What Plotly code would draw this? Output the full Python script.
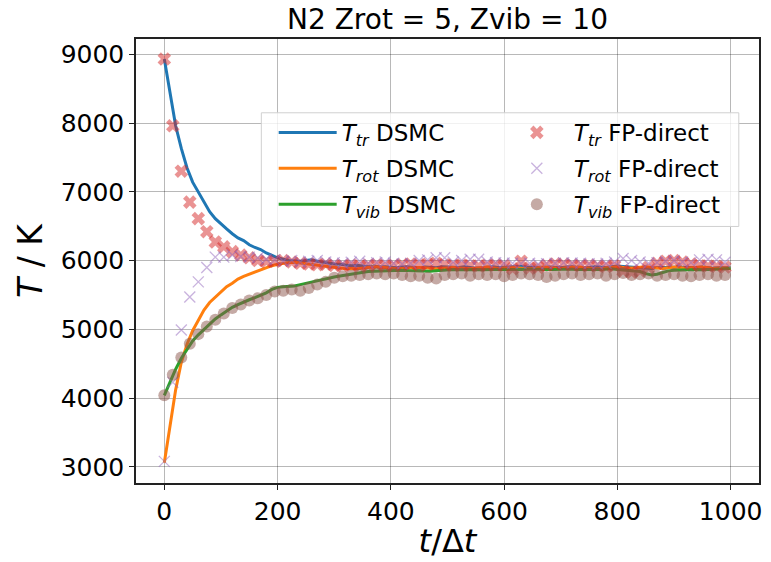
import plotly.graph_objects as go

# ---------------- data ----------------
t_dsmc = list(range(0, 1001, 10))
T_tr_dsmc = [8930, 8420, 7960, 7630, 7350, 7140, 6990, 6840, 6710, 6610,
             6530, 6460, 6390, 6330, 6290, 6230, 6190, 6160, 6110, 6070,
             6040, 6020, 6000, 5995, 5990, 6000, 6010, 5990, 5975, 5960,
             5950, 5945, 5930, 5925, 5930, 5915, 5910, 5920, 5905, 5910,
             5900, 5895, 5905, 5910, 5900, 5890, 5905, 5900, 5895, 5910,
             5905, 5895, 5900, 5910, 5900, 5890, 5895, 5905, 5910, 5900,
             5905, 5915, 5920, 5915, 5905, 5900, 5895, 5900, 5905, 5900,
             5895, 5905, 5910, 5900, 5895, 5900, 5910, 5905, 5900, 5910,
             5920, 5915, 5905, 5900, 5895, 5890, 5885, 5895, 5900, 5905,
             5910, 5905, 5900, 5895, 5900, 5905, 5895, 5890, 5895, 5900,
             5895]
T_rot_dsmc = [3060, 3620, 4120, 4520, 4780, 4980, 5140, 5280, 5390, 5470,
              5550, 5620, 5670, 5730, 5770, 5800, 5840, 5870, 5900, 5925,
              5945, 5960, 5970, 5975, 5965, 5950, 5940, 5925, 5915, 5905,
              5900, 5890, 5880, 5885, 5880, 5890, 5900, 5910, 5905, 5895,
              5890, 5880, 5885, 5890, 5905, 5900, 5895, 5885, 5880, 5890,
              5895, 5900, 5890, 5885, 5880, 5890, 5900, 5905, 5895, 5885,
              5890, 5895, 5900, 5890, 5880, 5885, 5895, 5905, 5900, 5890,
              5885, 5895, 5905, 5910, 5900, 5890, 5880, 5885, 5895, 5905,
              5910, 5900, 5890, 5895, 5905, 5910, 5900, 5890, 5885, 5895,
              5905, 5900, 5890, 5895, 5900, 5905, 5895, 5885, 5890, 5895,
              5890]
T_vib_dsmc = [4040, 4230, 4420, 4580, 4710, 4830, 4920, 5000, 5070, 5150,
              5210, 5270, 5320, 5360, 5400, 5430, 5460, 5490, 5530, 5580,
              5610, 5620, 5625, 5630, 5650, 5670, 5690, 5700, 5720, 5740,
              5760, 5775, 5790, 5800, 5815, 5830, 5840, 5845, 5850, 5855,
              5860, 5865, 5860, 5855, 5850, 5845, 5840, 5845, 5850, 5860,
              5865, 5870, 5865, 5870, 5875, 5870, 5865, 5870, 5875, 5880,
              5875, 5870, 5865, 5870, 5875, 5880, 5875, 5870, 5865, 5870,
              5875, 5880, 5875, 5870, 5875, 5880, 5875, 5870, 5875, 5880,
              5870, 5860, 5855, 5850, 5840, 5810, 5790, 5800, 5830, 5850,
              5860, 5865, 5870, 5875, 5870, 5865, 5870, 5875, 5880, 5885,
              5885]

t_fp = list(range(0, 991, 15))
T_tr_fp = [8930, 7960, 7300, 6850, 6610, 6420, 6270, 6200, 6130, 6080,
           6040, 6000, 5985, 5990, 6000, 5980, 5960, 5950, 5940, 5945,
           5930, 5925, 5935, 5920, 5930, 5940, 5925, 5930, 5940, 5950,
           5935, 5945, 5960, 5940, 5930, 5935, 5925, 5920, 5930, 5935,
           5925, 5880, 5990, 5890, 5900, 5930, 5950, 5945, 5935, 5925,
           5930, 5920, 5915, 5925, 5850, 5830, 5850, 5900, 5960, 5990,
           6000, 5980, 5950, 5925, 5920, 5915, 5905]
T_rot_fp = [3080, 4230, 4990, 5470, 5690, 5900, 6050, 6050, 6080, 6060,
            6050, 6040, 6020, 6010, 5990, 6000, 5980, 5990, 6000, 5980,
            5970, 5960, 5975, 5990, 5960, 5970, 5980, 5960, 5950, 5960,
            6000, 6010, 6040, 6040, 5980, 6000, 6020, 6020, 5980, 5970,
            5965, 5960, 5955, 5960, 5950, 5955, 5960, 5970, 5965, 5960,
            5955, 5950, 5960, 5980, 6030, 6000, 5980, 5960, 5970, 5990,
            6000, 5980, 5970, 6010, 6020, 6010, 5975]
T_vib_fp = [4040, 4340, 4590, 4790, 4930, 5040, 5140, 5230, 5310, 5360,
            5420, 5450, 5500, 5550, 5560, 5580, 5560, 5600, 5650, 5690,
            5750, 5770, 5780, 5790, 5800, 5810, 5800, 5810, 5790, 5770,
            5780, 5750, 5740, 5790, 5800, 5810, 5780, 5800, 5790, 5800,
            5770, 5790, 5810, 5800, 5790, 5760, 5780, 5800, 5810, 5790,
            5800, 5810, 5780, 5800, 5820, 5790, 5800, 5810, 5780, 5790,
            5800, 5780, 5770, 5790, 5800, 5780, 5790]

x_ticks = [0, 200, 400, 600, 800, 1000]
y_ticks = [3000, 4000, 5000, 6000, 7000, 8000, 9000]

# ---------------- figure ----------------
FONT = "DejaVu Sans"
fig = go.Figure()

line_w = 3
fig.add_trace(go.Scatter(x=t_dsmc, y=T_tr_dsmc, mode="lines",
                         line=dict(color="#1f77b4", width=line_w),
                         name="<i>T</i><sub><i>tr</i></sub> DSMC",
                         legend="legend", legendgroup="a"))
fig.add_trace(go.Scatter(x=t_dsmc, y=T_rot_dsmc, mode="lines",
                         line=dict(color="#ff7f0e", width=line_w),
                         name="<i>T</i><sub><i>rot</i></sub> DSMC",
                         legend="legend", legendgroup="b"))
fig.add_trace(go.Scatter(x=t_dsmc, y=T_vib_dsmc, mode="lines",
                         line=dict(color="#2ca02c", width=line_w),
                         name="<i>T</i><sub><i>vib</i></sub> DSMC",
                         legend="legend", legendgroup="c"))
fig.add_trace(go.Scatter(x=t_fp, y=T_tr_fp, mode="markers",
                         marker=dict(symbol="x", size=12, color="rgba(214,39,40,0.5)",
                                     line=dict(width=0)),
                         name="<i>T</i><sub><i>tr</i></sub> FP-direct",
                         legend="legend2", legendgroup="d"))
fig.add_trace(go.Scatter(x=t_fp, y=T_rot_fp, mode="markers",
                         marker=dict(symbol="x-thin", size=11,
                                     color="rgba(148,103,189,0.5)",
                                     line=dict(width=1.3, color="rgba(148,103,189,0.5)")),
                         name="<i>T</i><sub><i>rot</i></sub> FP-direct",
                         legend="legend2", legendgroup="e"))
fig.add_trace(go.Scatter(x=t_fp, y=T_vib_fp, mode="markers",
                         marker=dict(symbol="circle", size=12, color="rgba(140,86,75,0.5)",
                                     line=dict(width=0)),
                         name="<i>T</i><sub><i>vib</i></sub> FP-direct",
                         legend="legend2", legendgroup="f"))

axis_common = dict(
    showline=True, linecolor="#222222", linewidth=1.5, mirror=True,
    ticks="outside", ticklen=5, tickwidth=1.3, tickcolor="#222222",
    showgrid=True, gridcolor="rgba(0,0,0,0.28)", gridwidth=1,
    zeroline=False, tickfont=dict(family=FONT, size=25, color="black"),
)

fig.update_layout(
    width=771, height=562,
    margin=dict(l=136, r=9, t=39, b=78),
    plot_bgcolor="white", paper_bgcolor="white",
    title=dict(text="N2 Zrot = 5, Zvib = 10", x=0.5, xref="paper", xanchor="center",
               y=1 - 19 / 562, yref="container", yanchor="middle",
               font=dict(family=FONT, size=28, color="black")),
    xaxis=dict(range=[-50, 1050], tickvals=x_ticks,
               title=dict(text="<i>t</i>/Δ<i>t</i>", font=dict(family=FONT, size=32, color="black"),
                          standoff=5),
               **axis_common),
    yaxis=dict(range=[2765, 9222], tickvals=y_ticks,
               title=dict(text="<i>T</i> / K", font=dict(family=FONT, size=33, color="black"),
                          standoff=8),
               **axis_common),
    legend=dict(x=0.221, y=0.838, xanchor="left", yanchor="top",
                bgcolor="rgba(0,0,0,0)", borderwidth=0, itemwidth=58,
                tracegroupgap=3,
                font=dict(family=FONT, size=23, color="black")),
    legend2=dict(x=0.584, y=0.838, xanchor="left", yanchor="top",
                 bgcolor="rgba(0,0,0,0)", borderwidth=0, itemwidth=64,
                 tracegroupgap=3,
                 font=dict(family=FONT, size=23, color="black")),
    showlegend=True,
)

# legend frame, in paper coordinates of the plot area
x0, x1 = (262 - 136) / 626.3, (742 - 136) / 626.3
y1, y0 = (484.3 - 113) / 445.3, (484.3 - 227) / 445.3
fig.add_shape(type="rect", xref="paper", yref="paper", x0=x0, x1=x1, y0=y0, y1=y1,
              line=dict(color="#d0d0d0", width=1), fillcolor="rgba(255,255,255,0.8)",
              layer="above")

fig.write_html("out.html")
